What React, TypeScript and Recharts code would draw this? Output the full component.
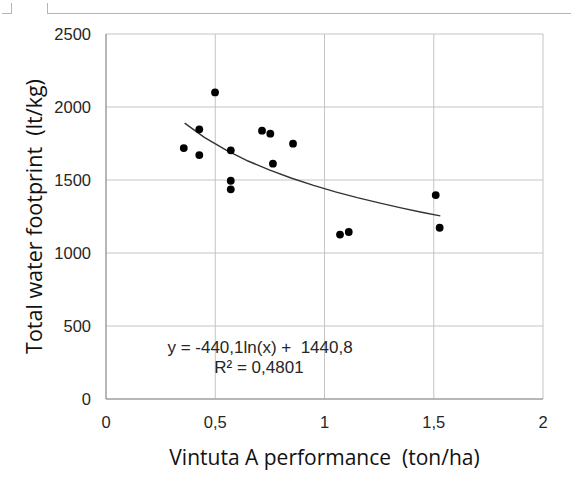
import { CartesianGrid, Label, ReferenceDot, Scatter, ScatterChart, XAxis, YAxis } from 'recharts'

// observed points
const performance = [0.356, 0.427, 0.427, 0.499, 0.571, 0.571, 0.571, 0.714, 0.752, 0.764, 0.856, 1.071, 1.111, 1.509, 1.527]
const footprint = [1719, 1847, 1671, 2100, 1703, 1495, 1436, 1838, 1817, 1612, 1749, 1126, 1144, 1397, 1173]

// logarithmic trend line
const trendX = [0.36, 0.45, 0.55, 0.65, 0.75, 0.85, 0.95, 1.05, 1.15, 1.25, 1.35, 1.45, 1.53]
const trendY = [1890, 1792, 1704, 1630, 1567, 1512, 1463, 1419, 1379, 1343, 1309, 1277, 1254]

const xTicks = [0, 0.5, 1, 1.5, 2]
const yTicks = [0, 500, 1000, 1500, 2000, 2500]

const equation = 'y = -440,1ln(x) + \u00a01440,8'
const rSquared = 'R² = 0,4801'

const points = performance.map((x, i) => ({ x, y: footprint[i] }))
const trend = trendX.map((x, i) => ({ x, y: trendY[i] }))

const tickStyle = { fontFamily: 'Liberation Sans, Arial, sans-serif', fontSize: 16.5, fill: '#262626' }
const titleStyle = { fontFamily: 'Open Sans, sans-serif', fontSize: 21, fill: '#111' }
const noteStyle = { fontFamily: 'Liberation Sans, Arial, sans-serif', fontSize: 17, fill: '#262626' }

const Dot = (props: any) => <circle cx={props.cx} cy={props.cy} r={3.9} fill="#000" />
const NoDot = () => <g />

export default function App() {
  return (
    <div style={{ position: 'absolute', left: 0, top: 0, width: 571, height: 480, background: '#fff' }}>
      <div style={{ position: 'absolute', left: 2, top: 13, width: 10, height: 1, background: '#b5b5b5' }} />
      <div style={{ position: 'absolute', left: 11, top: 3, width: 1, height: 11, background: '#b5b5b5' }} />
      <div style={{ position: 'absolute', left: 47, top: 13, width: 524, height: 1, background: '#b5b5b5' }} />
      <div style={{ position: 'absolute', left: 47, top: 3, width: 1, height: 11, background: '#b5b5b5' }} />
      <ScatterChart width={571} height={480} margin={{ top: 34, right: 28, bottom: 0, left: 0 }}>
        <CartesianGrid stroke="#c4c4c4" strokeWidth={1} />
        <XAxis
          type="number"
          dataKey="x"
          domain={[0, 2]}
          ticks={xTicks}
          tickFormatter={(v) => String(v).replace('.', ',')}
          tick={tickStyle}
          tickSize={0}
          tickMargin={17}
          axisLine={{ stroke: '#8c8c8c' }}
          height={81}
          allowDataOverflow
        >
          <Label value={'Vintuta A performance \u00a0(ton/ha)'} position="insideBottom" offset={15} style={titleStyle} />
        </XAxis>
        <YAxis
          type="number"
          dataKey="y"
          domain={[0, 2500]}
          ticks={yTicks}
          tick={tickStyle}
          tickSize={0}
          tickMargin={15}
          axisLine={{ stroke: '#8c8c8c' }}
          width={106}
          allowDataOverflow
        >
          <Label
            value={'Total water footprint \u00a0(lt/kg)'}
            angle={-90}
            position="insideLeft"
            offset={34}
            style={{ ...titleStyle, fontSize: 21.5, textAnchor: 'middle' }}
          />
        </YAxis>
        <Scatter
          data={trend}
          line={{ stroke: '#333', strokeWidth: 1.4 }}
          lineType="joint"
          shape={NoDot}
          isAnimationActive={false}
        />
        <Scatter data={points} fill="#000" shape={Dot} isAnimationActive={false} />
        <ReferenceDot x={0.705} y={356} r={0} stroke="none" fill="none" ifOverflow="visible">
          <Label value={equation} position="center" style={noteStyle} />
        </ReferenceDot>
        <ReferenceDot x={0.70} y={219} r={0} stroke="none" fill="none" ifOverflow="visible">
          <Label value={rSquared} position="center" style={noteStyle} />
        </ReferenceDot>
      </ScatterChart>
    </div>
  )
}
